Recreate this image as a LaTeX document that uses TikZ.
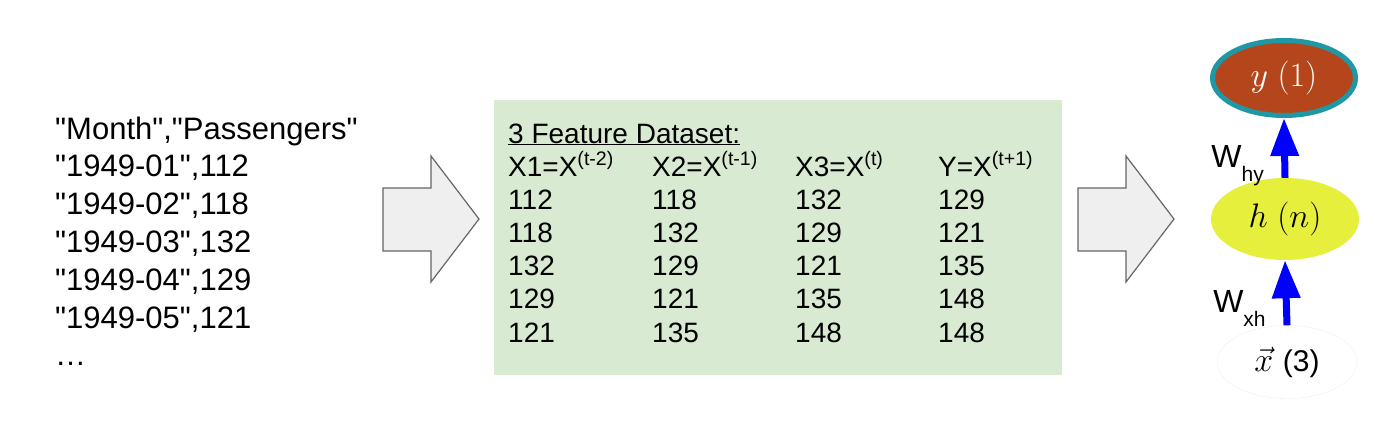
\RequirePackage{fix-cm}
\documentclass[tikz,border=0pt]{standalone}
\usepackage[no-math]{fontspec}
\setmainfont{Liberation Sans}[Ligatures=TeXOff]
\usetikzlibrary{shapes.geometric,arrows.meta,positioning}
\definecolor{DGreen}{HTML}{D9EAD3}
\definecolor{ABrown}{HTML}{B5461C}
\definecolor{ATeal}{HTML}{1E98A4}
\definecolor{HYellow}{HTML}{E6EF3C}
\definecolor{BGray}{HTML}{EFEFEF}
\newcommand{\fsz}[1]{\fontsize{#1pt}{#1pt}\selectfont}
\begin{document}
\begin{tikzpicture}[x=1pt,y=-1pt,
    txt/.style={anchor=base west,inner sep=0pt,font=\fsz{31}},
    tbl/.style={anchor=base west,inner sep=0pt,font=\fsz{28}},
    bigarrow/.style={draw=black!60,fill=BGray,line width=1.2pt},
    unit/.style={ellipse,inner sep=0pt,font=\fsz{34}},
    wgt/.style={-{Triangle[length=38pt,width=27pt]},blue,line width=7pt},
    wlab/.style={anchor=base east,inner sep=0pt,xshift=-17.5pt,text=black,font=\fsz{32}}]
    \useasboundingbox (0,0) rectangle (1375,436);
        \foreach \t [count=\i from 0] in {{"Month","Passengers"},{"1949-01",112},{"1949-02",118},{"1949-03",132},{"1949-04",129},{"1949-05",121},{…}}
        {
            \node[txt] (csv\i) at (55,{139+37.8*\i}) {\t};
        }
        \foreach \ax in {383,1078}
        {
            \draw[bigarrow] (\ax,188) -- ++(48,0) -- ++(0,-32) -- ++(48,63) -- ++(-48,63) -- ++(0,-31) -- ++(-48,0) -- cycle;
        }
        \node[fill=DGreen,anchor=north west,inner sep=0pt,minimum width=568pt,minimum height=275pt] (data) at (494,100) {};
        \node[tbl] (title) at (508,143) {\underline{3 Feature Dataset:}};
        \node[tbl] (col1) at (508,176) {X1=X\textsuperscript{(t-2)}};
        \node[tbl] (col2) at (652,176) {X2=X\textsuperscript{(t-1)}};
        \node[tbl] (col3) at (795,176) {X3=X\textsuperscript{(t)}};
        \node[tbl] (col4) at (938,176) {Y=X\textsuperscript{(t+1)}};
        \foreach \a/\b/\c/\d [count=\r] in {112/118/132/129,118/132/129/121,132/129/121/135,129/121/135/148,121/135/148/148}
        {
            \node[tbl] (v\r-1) at (508,{176+33.2*\r}) {\a};
            \node[tbl] (v\r-2) at (652,{176+33.2*\r}) {\b};
            \node[tbl] (v\r-3) at (795,{176+33.2*\r}) {\c};
            \node[tbl] (v\r-4) at (938,{176+33.2*\r}) {\d};
        }
        \node[unit,fill=ABrown,draw=ATeal,line width=5pt,minimum width=143pt,minimum height=75pt,text=white] (out) at (1284,78) {$y\ (1)$};
        \node[unit,fill=HYellow,minimum width=148pt,minimum height=82pt] (hid) at (1285,219) {$h\ (n)$};
        \node[unit,draw=black!7,minimum width=140pt,minimum height=73pt] (inp) at (1287,362) {$\vec{x}$ {\fsz{30}(3)}};
        \draw[wgt] (hid.north) -- node[wlab,pos=0.17] {W\raisebox{-14pt}{\fsz{21}hy}} (out.south);
        \draw[wgt] (inp.north) -- node[wlab,pos=0.19] {W\raisebox{-14pt}{\fsz{21}xh}} (hid.south);
\end{tikzpicture}
\end{document}
